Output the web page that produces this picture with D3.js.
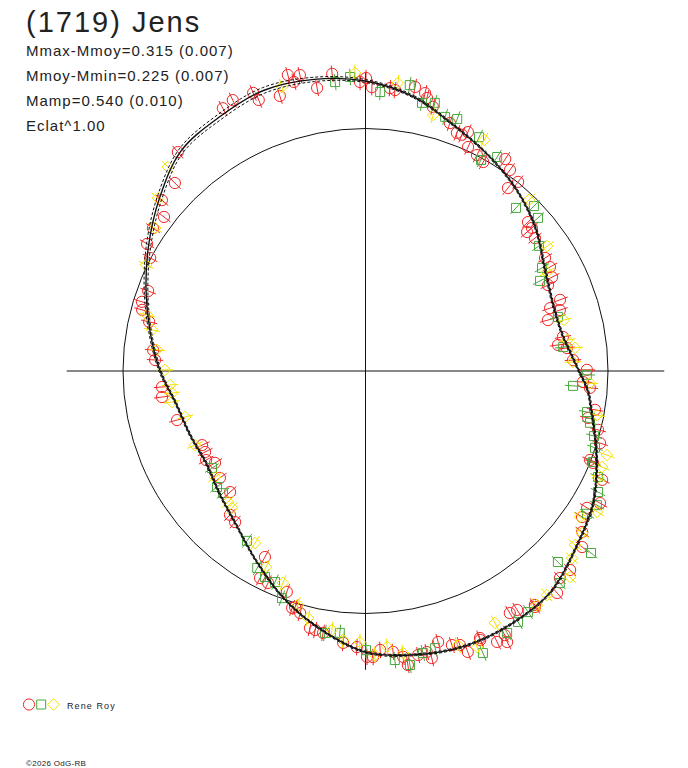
<!DOCTYPE html>
<html>
<head>
<meta charset="utf-8">
<script src="https://cdn.jsdelivr.net/npm/d3@7"></script>
<style>
  body { margin: 0; background: #fff; }
  svg { display: block; }
  text { font-family: "Liberation Sans", Arial, sans-serif; fill: #222; }
</style>
</head>
<body>
<div id="chart"></div>
<script>
// texts
var titleText = "(1719) Jens";
var statLines = ["Mmax-Mmoy=0.315 (0.007)", "Mmoy-Mmin=0.225 (0.007)", "Mamp=0.540 (0.010)", "Eclat^1.00"];
var observer = "Rene Roy";
var copyright = "\u00a92026 OdG-RB";

// fitted lightcurve: phase (deg, clockwise from top), relative radius, envelope half-width
var fitPhase = [0, 10, 20, 30, 40, 50, 60, 70, 75, 80, 85, 90, 95, 100, 110, 120, 130, 140, 150, 160,
                170, 180, 190, 200, 210, 220, 230, 240, 250, 260, 270, 280, 290, 300, 310, 320, 330, 340, 350];
var fitR = [1.196, 1.148, 1.075, 1.022, 0.972, 0.916, 0.853, 0.821, 0.819, 0.827, 0.849, 0.880, 0.920, 0.946,
            1.014, 1.085, 1.133, 1.189, 1.204, 1.206, 1.188, 1.159, 1.080, 0.994, 0.903, 0.829, 0.786, 0.759,
            0.770, 0.792, 0.847, 0.901, 0.963, 1.033, 1.109, 1.184, 1.208, 1.231, 1.221];
var fitErr = [0.006, 0.005, 0.004, 0.004, 0.004, 0.004, 0.004, 0.004, 0.004, 0.004, 0.004, 0.004, 0.004, 0.004,
              0.004, 0.004, 0.004, 0.004, 0.004, 0.004, 0.004, 0.004, 0.004, 0.004, 0.004, 0.004, 0.004, 0.004,
              0.004, 0.004, 0.005, 0.006, 0.008, 0.010, 0.011, 0.011, 0.012, 0.012, 0.009];

// observations [phase deg, relative radius]
var redPts = [[331.5,1.233],[333.9,1.244],[338.0,1.237],[338.5,1.201],[342.7,1.188],[345.3,1.262],[347.5,1.250],
  [346.1,1.228],[350.3,1.184],[353.6,1.233],[358.9,1.192],[0.1,1.208],[1.3,1.171],[4.95,1.171],[6.0,1.165],
  [9.9,1.189],[12.7,1.154],[14.3,1.124],[12.1,1.172],[18.8,1.080],[21.0,1.052],[22.2,1.052],[23.2,1.072],
  [24.6,1.016],[27.3,1.002],[29.4,0.989],[33.4,1.047],[35.7,1.021],[38.9,1.002],[37.9,0.956],[47.5,0.909],
  [49.3,0.905],[49.3,0.879],[51.9,0.888],[57.8,0.875],[60.6,0.873],[63.3,0.861],[64.8,0.832],[69.9,0.854],
  [71.2,0.804],[72.6,0.840],[74.4,0.781],[80.2,0.826],[82.3,0.801],[83.5,0.836],[87.0,0.857],[89.7,0.913],
  [92.9,0.898],[94.3,0.928],[99.6,0.960],[101.9,0.938],[104.2,0.989],[107.1,1.012],[111.6,0.996],[114.7,1.074],
  [112.0,1.012],[119.4,1.110],[121.7,1.074],[124.0,1.077],[126.6,1.113],[129.1,1.151],[134.2,1.177],[136.8,1.171],
  [139.2,1.209],[144.1,1.191],[147.6,1.167],[149.2,1.162],[156.8,1.198],[152.2,1.231],[199.6,0.967],[197.2,1.023],
  [195.1,1.034],[192.2,1.084],[191.0,1.088],[189.2,1.094],[184.7,1.125],[181.8,1.139],[179.7,1.179],[178.5,1.180],
  [177.0,1.152],[174.4,1.164],[172.5,1.189],[171.8,1.225],[169.5,1.191],[167.7,1.186],[167.0,1.215],[165.0,1.157],
  [162.5,1.185],[161.0,1.195],[160.0,1.233],[156.9,1.206],[154.1,1.242],[152.4,1.261],[144.3,1.198],[265.5,0.842],
  [262.7,0.846],[255.4,0.803],[245.6,0.740],[243.2,0.741],[240.8,0.753],[238.6,0.727],[233.7,0.745],[228.2,0.749],
  [223.3,0.815],[220.8,0.823],[208.4,0.872],[207.0,0.958],[204.7,0.962],[196.6,1.016],[319.4,1.189],[314.6,1.104],
  [310.0,1.096],[307.4,1.046],[303.9,1.056],[300.2,1.042],[297.7,1.003],[290.2,0.955],[287.2,0.965],[285.3,0.955],
  [282.8,0.915],[275.6,0.880],[273.0,0.869]];
var greenPts = [[354.0,1.198],[357.0,1.214],[3.0,1.152],[8.8,1.193],[11.9,1.130],[14.5,1.142],[17.4,1.098],
  [20.0,1.106],[25.9,1.072],[28.7,0.992],[31.6,1.036],[42.7,0.915],[45.6,0.972],[48.4,0.951],[54.2,0.882],
  [59.7,0.843],[62.7,0.810],[74.3,0.824],[83.1,0.821],[91.0,0.913],[94.1,0.858],[100.5,0.929],[103.0,0.950],
  [105.9,0.980],[108.5,0.998],[111.8,1.010],[114.5,1.054],[117.5,1.081],[120.1,1.103],[122.8,1.087],[128.9,1.195],
  [134.8,1.118],[137.5,1.186],[146.0,1.199],[148.7,1.211],[151.6,1.228],[157.4,1.260],[165.9,1.178],[168.5,1.187],
  [171.4,1.226],[174.2,1.198],[179.9,1.151],[185.6,1.085],[188.8,1.093],[200.2,0.998],[203.2,0.947],[206.0,0.945],
  [208.8,0.927],[214.9,0.854],[229.4,0.774],[232.0,0.777],[237.7,0.749]];
var yellowPts = [[343.6,1.221],[358.0,1.230],[6.4,1.195],[14.8,1.092],[27.2,1.071],[43.7,0.976],[55.5,0.909],
  [61.4,0.852],[75.6,0.845],[81.3,0.841],[83.7,0.869],[87.5,0.856],[93.1,0.927],[100.8,0.972],[109.2,1.054],
  [112.1,1.053],[114.7,1.055],[121.3,1.118],[124.2,1.070],[126.8,1.115],[129.7,1.123],[132.2,1.149],[135.2,1.197],
  [141.0,1.189],[143.8,1.196],[152.8,1.168],[158.0,1.228],[161.4,1.193],[172.4,1.173],[175.5,1.141],[178.1,1.172],
  [181.2,1.118],[184.8,1.113],[187.4,1.077],[193.1,1.046],[196.1,1.004],[201.3,0.938],[206.9,0.906],[212.7,0.843],
  [224.3,0.789],[226.4,0.783],[234.8,0.759],[246.5,0.767],[255.7,0.768],[260.9,0.808],[263.5,0.803],[265.9,0.808],
  [270.3,0.827],[275.8,0.864],[280.9,0.896],[284.4,0.930],[295.8,1.005],[304.2,1.049],[309.8,1.114],[315.9,1.171]];
var obsErr = 0.034;   // radial error bar half-length
var axisMax = 1.232;  // extent of the cross hairs

var width = 688, height = 768;
var cx = 365.5, cy = 371;

var svg = d3.select("#chart").append("svg")
    .attr("width", width)
    .attr("height", height);

var rScale = d3.scaleLinear().domain([0, 1]).range([0, 242.5]);
var toRad = function (deg) { return deg * Math.PI / 180; };

var g = svg.append("g")
    .attr("transform", "translate(" + cx + "," + cy + ")");

// reference circle (mean level)
g.append("circle")
    .attr("r", rScale(1))
    .attr("fill", "none")
    .attr("stroke", "#111")
    .attr("stroke-width", 1);

// cross hairs
g.append("line")
    .attr("x1", -rScale(axisMax)).attr("x2", rScale(axisMax))
    .attr("y1", 0).attr("y2", 0)
    .attr("stroke", "#111");
g.append("line")
    .attr("y1", -rScale(axisMax)).attr("y2", rScale(axisMax))
    .attr("x1", 0).attr("x2", 0)
    .attr("stroke", "#111");

var series = [
    {pts: redPts, color: "#f02828", shape: "circle"},
    {pts: greenPts, color: "#4aa83e", shape: "square"},
    {pts: yellowPts, color: "#f2e200", shape: "diamond"}
];

function symbolPath(shape) {
    if (shape === "square") return "M-4.5,-4.5H4.5V4.5H-4.5Z";
    if (shape === "diamond") return "M0,-5.8L5.8,0L0,5.8L-5.8,0Z";
    return null;
}

series.forEach(function (s) {
    var grp = g.append("g");
    // radial error bars
    grp.selectAll("line.err")
        .data(s.pts)
        .enter().append("line")
        .attr("class", "err")
        .attr("stroke", s.color)
        .attr("stroke-width", 1)
        .each(function (d) {
            var a = toRad(d[0]);
            var p0 = d3.pointRadial(a, rScale(d[1] - obsErr));
            var p1 = d3.pointRadial(a, rScale(d[1] + obsErr));
            d3.select(this).attr("x1", p0[0]).attr("y1", p0[1]).attr("x2", p1[0]).attr("y2", p1[1]);
        });
    var marks;
    if (s.shape === "circle") {
        marks = grp.selectAll("circle.pt")
            .data(s.pts)
            .enter().append("circle")
            .attr("class", "pt")
            .attr("r", 5.6)
            .attr("cx", function (d) { return d3.pointRadial(toRad(d[0]), rScale(d[1]))[0]; })
            .attr("cy", function (d) { return d3.pointRadial(toRad(d[0]), rScale(d[1]))[1]; });
    } else {
        marks = grp.selectAll("path.pt")
            .data(s.pts)
            .enter().append("path")
            .attr("class", "pt")
            .attr("d", symbolPath(s.shape))
            .attr("transform", function (d) {
                var p = d3.pointRadial(toRad(d[0]), rScale(d[1]));
                return "translate(" + p[0] + "," + p[1] + ")";
            });
    }
    marks.attr("fill", "none").attr("stroke", s.color).attr("stroke-width", 1);
});

// fitted curve and its envelope
var fit = fitPhase.map(function (p, i) { return {a: toRad(p), r: fitR[i], e: fitErr[i]}; });

var radial = function (acc) {
    return d3.lineRadial()
        .angle(function (d) { return d.a; })
        .radius(function (d) { return rScale(acc(d)); })
        .curve(d3.curveCatmullRomClosed);
};

g.append("path")
    .datum(fit)
    .attr("d", radial(function (d) { return d.r + d.e; }))
    .attr("fill", "none").attr("stroke", "#111").attr("stroke-width", 1)
    .attr("stroke-dasharray", "3,2");
g.append("path")
    .datum(fit)
    .attr("d", radial(function (d) { return d.r - d.e; }))
    .attr("fill", "none").attr("stroke", "#111").attr("stroke-width", 1)
    .attr("stroke-dasharray", "3,2");
g.append("path")
    .datum(fit)
    .attr("d", radial(function (d) { return d.r; }))
    .attr("fill", "none").attr("stroke", "#111").attr("stroke-width", 1.4);

// title and statistics
svg.append("text")
    .attr("x", 26).attr("y", 32)
    .style("font-size", "29px")
    .style("letter-spacing", "2px")
    .text(titleText);

svg.selectAll("text.stat")
    .data(statLines)
    .enter().append("text")
    .attr("class", "stat")
    .attr("x", 26)
    .attr("y", function (d, i) { return 56 + i * 25; })
    .style("font-size", "15px")
    .style("letter-spacing", "1px")
    .text(function (d) { return d; });

// legend
var leg = svg.append("g").attr("transform", "translate(0,704.5)");
leg.append("circle").attr("cx", 29).attr("cy", 0).attr("r", 5.6)
    .attr("fill", "none").attr("stroke", series[0].color);
leg.append("path").attr("d", symbolPath("square")).attr("transform", "translate(41.2,0)")
    .attr("fill", "none").attr("stroke", series[1].color);
leg.append("path").attr("d", symbolPath("diamond")).attr("transform", "translate(53.5,0)")
    .attr("fill", "none").attr("stroke", series[2].color);
leg.append("text").attr("x", 67).attr("y", 4.5)
    .style("font-size", "9px")
    .style("letter-spacing", "1.1px")
    .text(observer);

svg.append("text")
    .attr("x", 26).attr("y", 766)
    .style("font-size", "8px")
    .style("letter-spacing", "0.3px")
    .text(copyright);
</script>
</body>
</html>
